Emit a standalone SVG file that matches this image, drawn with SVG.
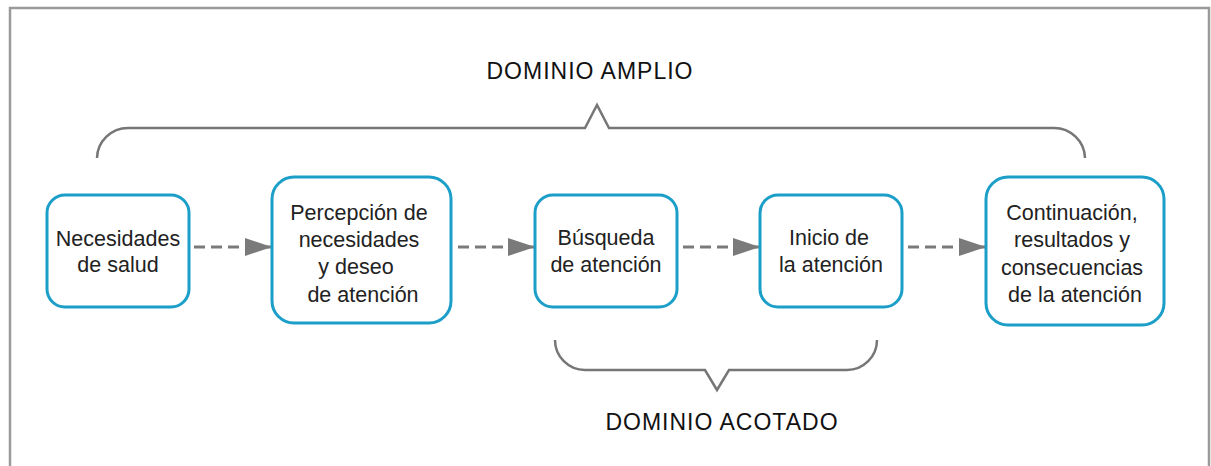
<svg xmlns="http://www.w3.org/2000/svg" width="1211" height="466" viewBox="0 0 1211 466">
<defs>
<style>
.node rect{fill:#fff;stroke:#1b9ec8;stroke-width:3}
.node text{font-family:"Liberation Sans",Arial,sans-serif;font-size:21.5px;fill:#222;text-anchor:middle}
.lbl{font-family:"Liberation Sans",Arial,sans-serif;font-size:23px;fill:#111;text-anchor:middle;letter-spacing:1px}
.brace{fill:none;stroke:#767676;stroke-width:2.5;stroke-linejoin:miter}
.conn line{stroke:#7a7a7a;stroke-width:3;stroke-dasharray:11 6}
</style>
<marker id="ah" markerUnits="userSpaceOnUse" markerWidth="28" markerHeight="18" refX="27" refY="9" orient="auto">
<path d="M0,0 L27,9 L0,18 Z" fill="#7a7a7a"/>
</marker>
</defs>
<rect x="0" y="0" width="1211" height="466" fill="#fff"/>
<rect x="10" y="8" width="1199" height="480" fill="none" stroke="#9a9a9a" stroke-width="2.5"/>

<g id="brace-amplio">
<path class="brace" d="M97,158 L97,158 A31,31 0 0 1 128,128 L585,128 L597,105 L609,128 L1054,128 A31,31 0 0 1 1085,158"/>
<text class="lbl" x="590" y="79">DOMINIO AMPLIO</text>
</g>

<g id="brace-acotado">
<path class="brace" d="M555,340 A30,30 0 0 0 585,370 L705,370 L717,390 L729,370 L847,370 A30,30 0 0 0 877,340"/>
<text class="lbl" x="722" y="430">DOMINIO ACOTADO</text>
</g>

<g id="connectors" class="conn">
<line x1="194" y1="247" x2="272" y2="247" marker-end="url(#ah)"/>
<line x1="458" y1="247" x2="535" y2="247" marker-end="url(#ah)"/>
<line x1="683" y1="247" x2="760" y2="247" marker-end="url(#ah)"/>
<line x1="908" y1="247" x2="986" y2="247" marker-end="url(#ah)"/>
</g>

<g id="n1" class="node">
<rect x="47" y="195" width="142" height="112" rx="18"/>
<text x="118" y="246">Necesidades</text>
<text x="118" y="272">de salud</text>
</g>

<g id="n2" class="node">
<rect x="272" y="177" width="179" height="146" rx="22"/>
<text x="359" y="220">Percepción de</text>
<text x="359" y="247">necesidades</text>
<text x="356" y="274">y deseo</text>
<text x="363" y="302">de atención</text>
</g>

<g id="n3" class="node">
<rect x="535" y="195" width="142" height="112" rx="18"/>
<text x="606" y="245">Búsqueda</text>
<text x="606" y="272">de atención</text>
</g>

<g id="n4" class="node">
<rect x="760" y="195" width="142" height="112" rx="18"/>
<text x="829" y="245">Inicio de</text>
<text x="831" y="272">la atención</text>
</g>

<g id="n5" class="node">
<rect x="986" y="177" width="178" height="148" rx="22"/>
<text x="1072" y="220">Continuación,</text>
<text x="1072" y="247">resultados y</text>
<text x="1072" y="275">consecuencias</text>
<text x="1075" y="302">de la atención</text>
</g>
</svg>
